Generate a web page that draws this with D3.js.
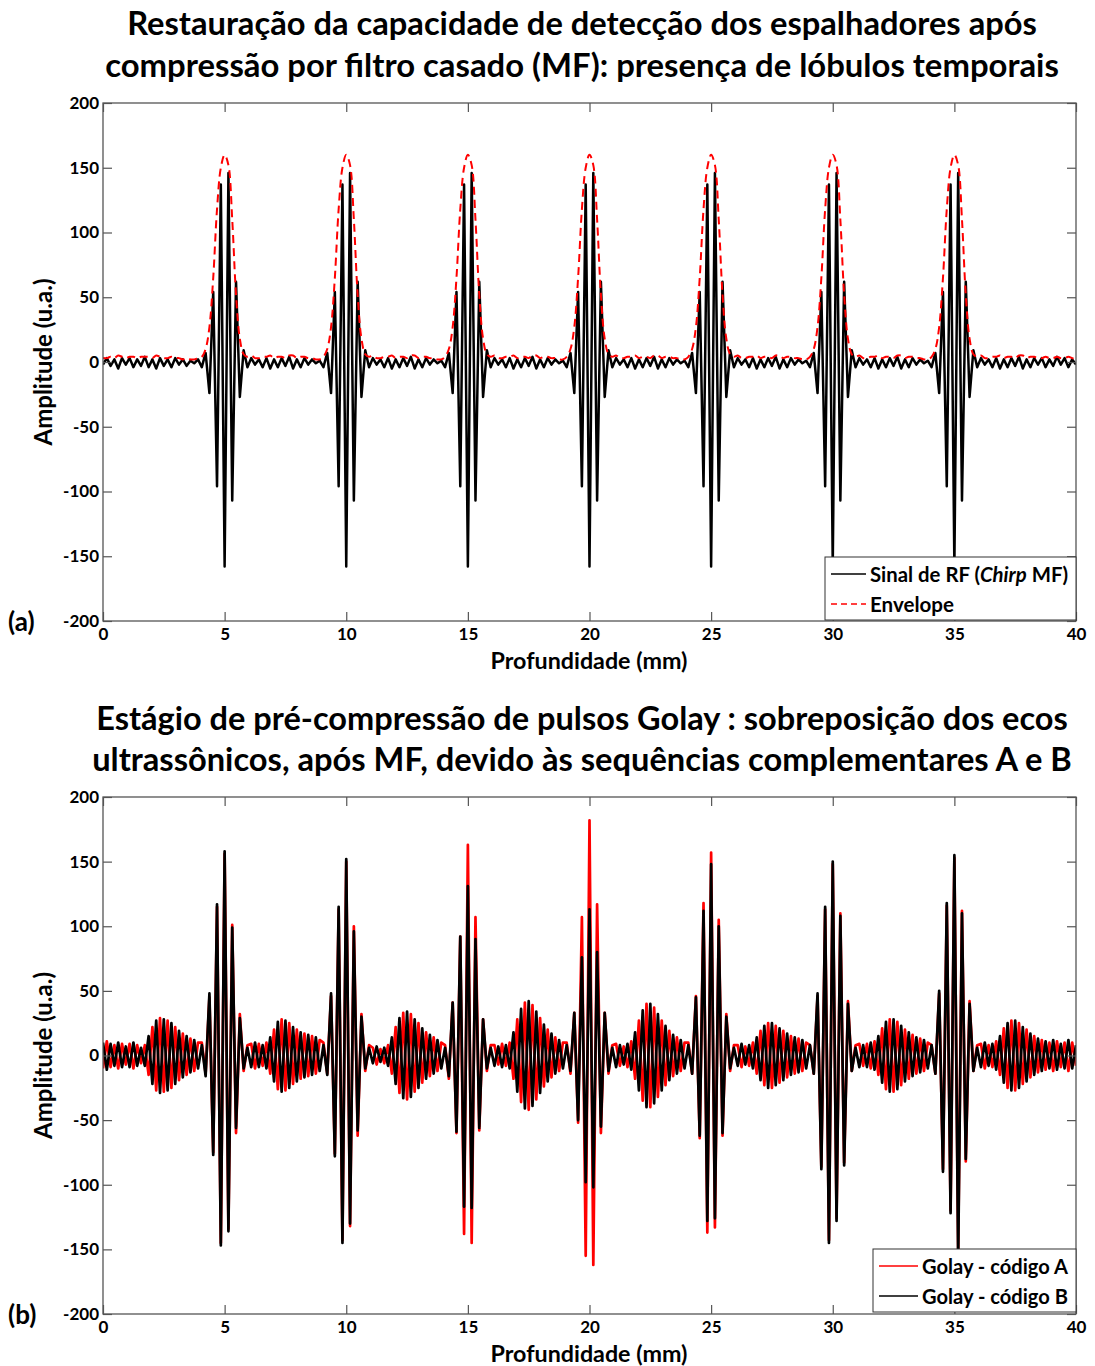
<!DOCTYPE html>
<html>
<head>
<meta charset="utf-8">
<script src="https://cdn.jsdelivr.net/npm/d3@7"></script>
<style>
  body { margin: 0; background: #fff; }
  text { font-family: Lato, "Open Sans", sans-serif; font-weight: bold; fill: #000; }
</style>
</head>
<body>
<script>
// spacing between successive extrema of the carrier (half period), mm
const STEP = 5 / 32
const echoes = [5, 10, 15, 20, 25, 30, 35]
const xTicks = [0, 5, 10, 15, 20, 25, 30, 35, 40]
const yTicks = [-200, -150, -100, -50, 0, 50, 100, 150, 200]

// ---- (a) chirp after matched filter : one echo, read at extrema (idx -6..6 around echo)
const rfPulse  = [-4, 7, -24, 54, -96, 137, -158, 146, -107, 62, -27, 9, -4]
const envPulse = [4, 10, 27, 65, 118, 150, 160, 152, 110, 52, 18, 6, 4]
// ripple between echoes
const rfStart = [-2, 3, -3, 2, -5, 3, -2, 3, -4, 2, -3, 4, -4, 2, -5, 3, -3, 2, -4, 3, -2, 2, -3, 1, -1, 2]
const rfGap   = [3, -2, 2, -4, 3, -5, 2, -4, 3, -3, 4, -5, 2, -4, 3, -2, 2, -1, 1]
const rfEnd   = [3, -2, 2, -4, 3, -5, 2, -4, 3, -3, 4, -5, 2, -4, 3, -2, 3, -4, 2, -3, 4, -2, 3, -4, 2, -2]
const envStart = [3, 3, 4, 3, 5, 4, 3, 4, 4, 3, 4, 4, 4, 3, 5, 4, 3, 3, 4, 3, 3, 2, 3, 2, 2, 3]
const envGap   = [5, 3, 3, 4, 4, 5, 3, 4, 4, 3, 5, 5, 3, 4, 4, 3, 3, 2, 2]
const envEnd   = [5, 3, 3, 4, 4, 5, 3, 4, 4, 3, 5, 5, 3, 4, 4, 3, 3, 4, 3, 3, 4, 3, 3, 4, 3, 2]

// ---- (b) Golay A / B : main echoes (idx -6..6)
const golayA = [
  [10, -14, 45, -75, 115, -145, 156, -134, 101, -60, 32, -12, 8],
  [10, -14, 46, -76, 113, -143, 150, -132, 100, -62, 32, -12, 8],
  [8, -18, 41, -60, 92, -138, 163, -145, 107, -58, 28, -12, 8],
  [10, -14, 33, -52, 107, -155, 182, -162, 117, -60, 33, -14, 8],
  [10, -14, 46, -64, 118, -137, 157, -133, 105, -62, 32, -12, 8],
  [8, -14, 46, -86, 113, -143, 148, -126, 110, -83, 42, -12, 8],
  [8, -14, 48, -88, 116, -120, 153, -150, 112, -82, 42, -12, 8]
]
const golayB = [
  [8, -16, 48, -77, 117, -147, 158, -136, 99, -56, 29, -10, 6],
  [8, -15, 48, -78, 115, -145, 152, -130, 96, -58, 30, -10, 6],
  [6, -16, 41, -59, 92, -117, 131, -118, 90, -56, 28, -10, 6],
  [8, -12, 33, -50, 76, -98, 113, -102, 80, -55, 33, -12, 6],
  [8, -14, 45, -62, 112, -128, 148, -126, 100, -60, 30, -10, 6],
  [8, -14, 48, -88, 115, -145, 150, -128, 108, -85, 40, -12, 6],
  [8, -14, 50, -90, 118, -122, 155, -158, 110, -80, 40, -12, 6]
]
// sidelobe magnitude between echoes (A and B in opposite phase)
const golayStart = [10, 11, 9, 8, 10, 9, 7, 9, 10, 8, 6, 8, 15, 22, 27, 29, 28, 27, 25, 22, 19, 17, 15, 13, 12, 10]
const golayGaps = [
  [9, 10, 9, 8, 10, 14, 20, 26, 28, 27, 25, 22, 20, 18, 17, 16, 15, 14, 12],
  [6, 7, 5, 6, 8, 14, 22, 29, 33, 34, 32, 28, 25, 21, 18, 16, 14, 12, 10],
  [8, 7, 9, 8, 10, 18, 28, 36, 41, 42, 39, 34, 29, 24, 20, 17, 14, 12, 10],
  [9, 8, 7, 9, 11, 18, 27, 35, 40, 40, 37, 32, 27, 23, 19, 16, 14, 12, 10],
  [8, 9, 7, 8, 10, 14, 19, 23, 25, 25, 23, 21, 19, 17, 15, 14, 13, 12, 10],
  [9, 8, 9, 10, 11, 15, 21, 26, 28, 28, 26, 23, 20, 18, 16, 14, 13, 12, 10]
]
const golayEnd = [9, 10, 8, 9, 11, 15, 21, 25, 27, 27, 25, 22, 20, 17, 15, 13, 12, 11, 10, 12, 11, 9, 10, 12, 10, 8]

// join start, echoes, gaps and end into one sequence of extrema
function assemble (first, pulses, gaps, last) {
  let vals = first.slice()
  pulses.forEach((p, k) => {
    vals = vals.concat(p)
    if (k < gaps.length) vals = vals.concat(gaps[k])
  })
  vals = vals.concat(last)
  return vals.map((v, i) => ({ x: i * STEP, y: v }))
}
// gap magnitudes -> signed values, sign following the sample index
function signed (mags, startIdx, s) {
  return mags.map((m, j) => ((startIdx + j) % 2 === 0 ? s : -s) * m)
}

const rfSeries  = assemble(rfStart, echoes.map(() => rfPulse), d3.range(6).map(() => rfGap), rfEnd)
const envSeries = assemble(envStart, echoes.map(() => envPulse), d3.range(6).map(() => envGap), envEnd)
const gapStartIdx = d3.range(6).map(k => 32 * (k + 1) + 7)
const seriesB = assemble(signed(golayStart, 0, 1), golayB,
  golayGaps.map((g, k) => signed(g, gapStartIdx[k], 1)), signed(golayEnd, 231, 1))
const seriesA = assemble(signed(golayStart, 0, -1), golayA,
  golayGaps.map((g, k) => signed(g, gapStartIdx[k], -1)), signed(golayEnd, 231, -1))

const W = 1095, H = 1366
const svg = d3.select('body').append('svg').attr('width', W).attr('height', H)

function fitText (sel, width) {
  const fs = parseFloat(sel.style('font-size'))
  const w = sel.node().getComputedTextLength()
  sel.style('font-size', (fs * width / w) + 'px')
  return sel
}

const x = d3.scaleLinear().domain([0, 40]).range([103, 1076])

function panel (cfg) {
  const y = d3.scaleLinear().domain([-200, 200]).range([cfg.bottom, cfg.top])
  const g = svg.append('g')
  const clipId = 'clip' + cfg.tag.replace(/\W/g, '')
  g.append('clipPath').attr('id', clipId).append('rect')
    .attr('x', 103).attr('y', cfg.top).attr('width', 973).attr('height', cfg.bottom - cfg.top)

  const line = d3.line().x(d => x(d.x)).y(d => y(d.y))
  const plot = g.append('g').attr('clip-path', `url(#${clipId})`)
  cfg.series.forEach(s => {
    plot.append('path')
      .attr('d', line.curve(s.smooth ? d3.curveCatmullRom : d3.curveLinear)(s.data))
      .attr('fill', 'none').attr('stroke', s.color).attr('stroke-width', s.width)
      .attr('stroke-linejoin', 'round')
      .attr('stroke-dasharray', s.dash || null)
  })

  const axisStyle = a => a.call(s => s.select('.domain').remove())
  const tl = 9
  const fmt = d => String(d)
  g.append('g').attr('transform', `translate(0,${cfg.bottom})`)
    .call(d3.axisBottom(x).tickValues(xTicks).tickSizeInner(-tl).tickSizeOuter(0).tickPadding(7).tickFormat(fmt))
    .call(axisStyle)
  g.append('g').attr('transform', `translate(0,${cfg.top})`)
    .call(d3.axisTop(x).tickValues(xTicks).tickSizeInner(-tl).tickSizeOuter(0).tickFormat(''))
    .call(axisStyle)
  g.append('g').attr('transform', 'translate(103,0)')
    .call(d3.axisLeft(y).tickValues(yTicks).tickSizeInner(-tl).tickSizeOuter(0).tickPadding(4).tickFormat(fmt))
    .call(axisStyle)
  g.append('g').attr('transform', 'translate(1076,0)')
    .call(d3.axisRight(y).tickValues(yTicks).tickSizeInner(-tl).tickSizeOuter(0).tickFormat(''))
    .call(axisStyle)
  g.selectAll('.tick line').attr('stroke', '#555').attr('stroke-width', 1.2)
  g.selectAll('.tick text').style('font-size', '17px').style('font-family', 'Lato, sans-serif')
    .style('font-weight', 'bold').attr('fill', '#000')

  g.append('rect').attr('x', 103).attr('y', cfg.top).attr('width', 973)
    .attr('height', cfg.bottom - cfg.top).attr('fill', 'none').attr('stroke', '#555').attr('stroke-width', 1.3)

  // titles
  cfg.title.forEach((t, i) => {
    const tt = g.append('text').attr('x', 582).attr('y', cfg.titleY[i]).attr('text-anchor', 'middle')
      .attr('dominant-baseline', 'central').style('font-size', '27px').text(t.text)
    fitText(tt, t.w)
  })
  const xl = g.append('text').attr('x', 589).attr('y', cfg.bottom + 39).attr('text-anchor', 'middle')
    .attr('dominant-baseline', 'central').style('font-size', '20px').text('Profundidade (mm)')
  fitText(xl, 197)
  const yl = g.append('text').attr('transform', `translate(42,${(cfg.top + cfg.bottom) / 2}) rotate(-90)`)
    .attr('text-anchor', 'middle').attr('dominant-baseline', 'central').style('font-size', '20px')
    .text('Amplitude (u.a.)')
  fitText(yl, 167)
  g.append('text').attr('x', 8).attr('y', cfg.bottom).attr('dominant-baseline', 'central')
    .style('font-size', '26px').text(cfg.tag)

  // legend
  const L = cfg.legend
  const lg = g.append('g')
  lg.append('rect').attr('x', L.x).attr('y', L.y).attr('width', 1076 - L.x).attr('height', 63)
    .attr('fill', '#fff').attr('stroke', '#333').attr('stroke-width', 1)
  L.items.forEach((it, i) => {
    const yy = L.y + 17 + i * 30
    lg.append('line').attr('x1', L.x + 6).attr('x2', L.x + L.len).attr('y1', yy).attr('y2', yy)
      .attr('stroke', it.color).attr('stroke-width', 1.5).attr('stroke-dasharray', it.dash || null)
    const t = lg.append('text').attr('x', L.x + L.len + 4).attr('y', yy).attr('dominant-baseline', 'central')
      .style('font-size', '18px')
    it.parts.forEach(p => t.append('tspan').style('font-style', p.italic ? 'italic' : null).text(p.t))
    fitText(t, it.w)
  })
}

panel({
  tag: '(a)', top: 103, bottom: 621,
  title: [
    { text: 'Restauração da capacidade de detecção dos espalhadores após', w: 910 },
    { text: 'compressão por filtro casado (MF): presença de lóbulos temporais', w: 954 }
  ],
  titleY: [22, 64],
  series: [
    { data: rfSeries, color: '#000', width: 2.5 },
    { data: envSeries, color: '#ff0000', width: 2, dash: '8,5', smooth: true }
  ],
  legend: {
    x: 825, y: 557, len: 41,
    items: [
      { color: '#000', parts: [{ t: 'Sinal de RF (' }, { t: 'Chirp', italic: true }, { t: ' MF)' }], w: 198 },
      { color: '#ff0000', dash: '6,4', parts: [{ t: 'Envelope' }], w: 84 }
    ]
  }
})

panel({
  tag: '(b)', top: 797, bottom: 1314,
  title: [
    { text: 'Estágio de pré-compressão de pulsos Golay : sobreposição dos ecos', w: 972 },
    { text: 'ultrassônicos, após MF, devido às sequências complementares A e B', w: 980 }
  ],
  titleY: [717, 758],
  series: [
    { data: seriesA, color: '#ff0000', width: 2.7 },
    { data: seriesB, color: '#000', width: 2.7 }
  ],
  legend: {
    x: 873, y: 1249, len: 45,
    items: [
      { color: '#ff0000', parts: [{ t: 'Golay - código A' }], w: 146 },
      { color: '#000', parts: [{ t: 'Golay - código B' }], w: 146 }
    ]
  }
})
</script>
</body>
</html>
